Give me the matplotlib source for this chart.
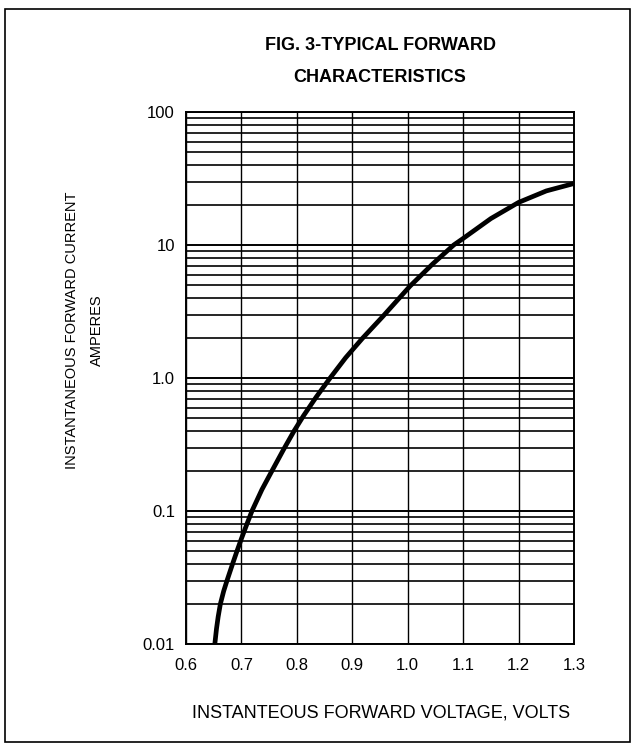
import matplotlib
matplotlib.use('Agg')
import matplotlib.pyplot as plt
from matplotlib.patches import Rectangle
from matplotlib.ticker import FixedLocator, FixedFormatter, NullFormatter

plt.rcParams['font.family'] = ['Liberation Sans', 'DejaVu Sans']

# forward characteristic (volts, amperes)
voltage = [0.652, 0.655, 0.658, 0.662, 0.668, 0.674, 0.684, 0.692, 0.700, 0.709,
           0.719, 0.737, 0.755, 0.776, 0.795, 0.812, 0.835, 0.860, 0.888, 0.918,
           0.955, 1.004, 1.045, 1.083, 1.100, 1.150, 1.200, 1.250, 1.300]
current = [0.010, 0.013, 0.016, 0.020, 0.025, 0.030, 0.040, 0.050, 0.062, 0.078,
           0.100, 0.145, 0.200, 0.290, 0.400, 0.520, 0.720, 1.00, 1.42, 1.98,
           2.90, 4.90, 7.2, 10.0, 11.2, 15.8, 20.9, 25.5, 29.0]

x_ticks = [0.6, 0.7, 0.8, 0.9, 1.0, 1.1, 1.2, 1.3]
x_labels = ['0.6', '0.7', '0.8', '0.9', '1.0', '1.1', '1.2', '1.3']
y_ticks = [0.01, 0.1, 1.0, 10, 100]
y_labels = ['0.01', '0.1', '1.0', '10', '100']

W, H = 633, 743
fig = plt.figure(figsize=(W / 100, H / 100), dpi=100)

# frame around the whole figure
fig.patches.append(Rectangle((5 / W, 1 / H), 625 / W, (H - 10) / H, transform=fig.transFigure,
                             fill=False, edgecolor='black', linewidth=1.2))

ax = fig.add_axes([186 / W, 1 - 644 / H, (574 - 186) / W, (644 - 112) / H])
ax.set_yscale('log')
ax.set_xlim(0.6, 1.3)
ax.set_ylim(0.01, 100)

minor = [m * 10.0 ** e for e in range(-2, 2) for m in range(2, 10)]
ax.yaxis.set_major_locator(FixedLocator(y_ticks))
ax.yaxis.set_major_formatter(FixedFormatter(y_labels))
ax.yaxis.set_minor_locator(FixedLocator(minor))
ax.yaxis.set_minor_formatter(NullFormatter())
ax.xaxis.set_major_locator(FixedLocator(x_ticks))
ax.xaxis.set_major_formatter(FixedFormatter(x_labels))

ax.grid(True, which='major', axis='y', color='black', linewidth=1.4)
ax.grid(True, which='minor', axis='y', color='black', linewidth=1.2)
ax.grid(True, which='major', axis='x', color='black', linewidth=1.0)
ax.tick_params(which='both', length=0, labelsize=12)
ax.tick_params(axis='x', pad=10)
ax.tick_params(axis='y', pad=8)
for s in ax.spines.values():
    s.set_linewidth(1.4)

ax.plot(voltage, current, color='black', linewidth=3.4, solid_capstyle='butt',
        solid_joinstyle='round', zorder=5)

fig.text(380 / W, 1 - 46 / H, 'FIG. 3-TYPICAL FORWARD', ha='center', va='center',
         fontsize=13, fontweight='bold')
fig.text(380 / W, 1 - 78 / H, 'CHARACTERISTICS', ha='center', va='center',
         fontsize=13, fontweight='bold')
fig.text(84 / W, 1 - 330 / H, 'INSTANTANEOUS FORWARD CURRENT\nAMPERES', rotation=90,
         ha='center', va='center', multialignment='center', fontsize=10.5, linespacing=2.0)
fig.text(381 / W, 1 - 713 / H, 'INSTANTEOUS FORWARD VOLTAGE, VOLTS', ha='center', va='center',
         fontsize=13)

fig.savefig('out.png', dpi=100)
